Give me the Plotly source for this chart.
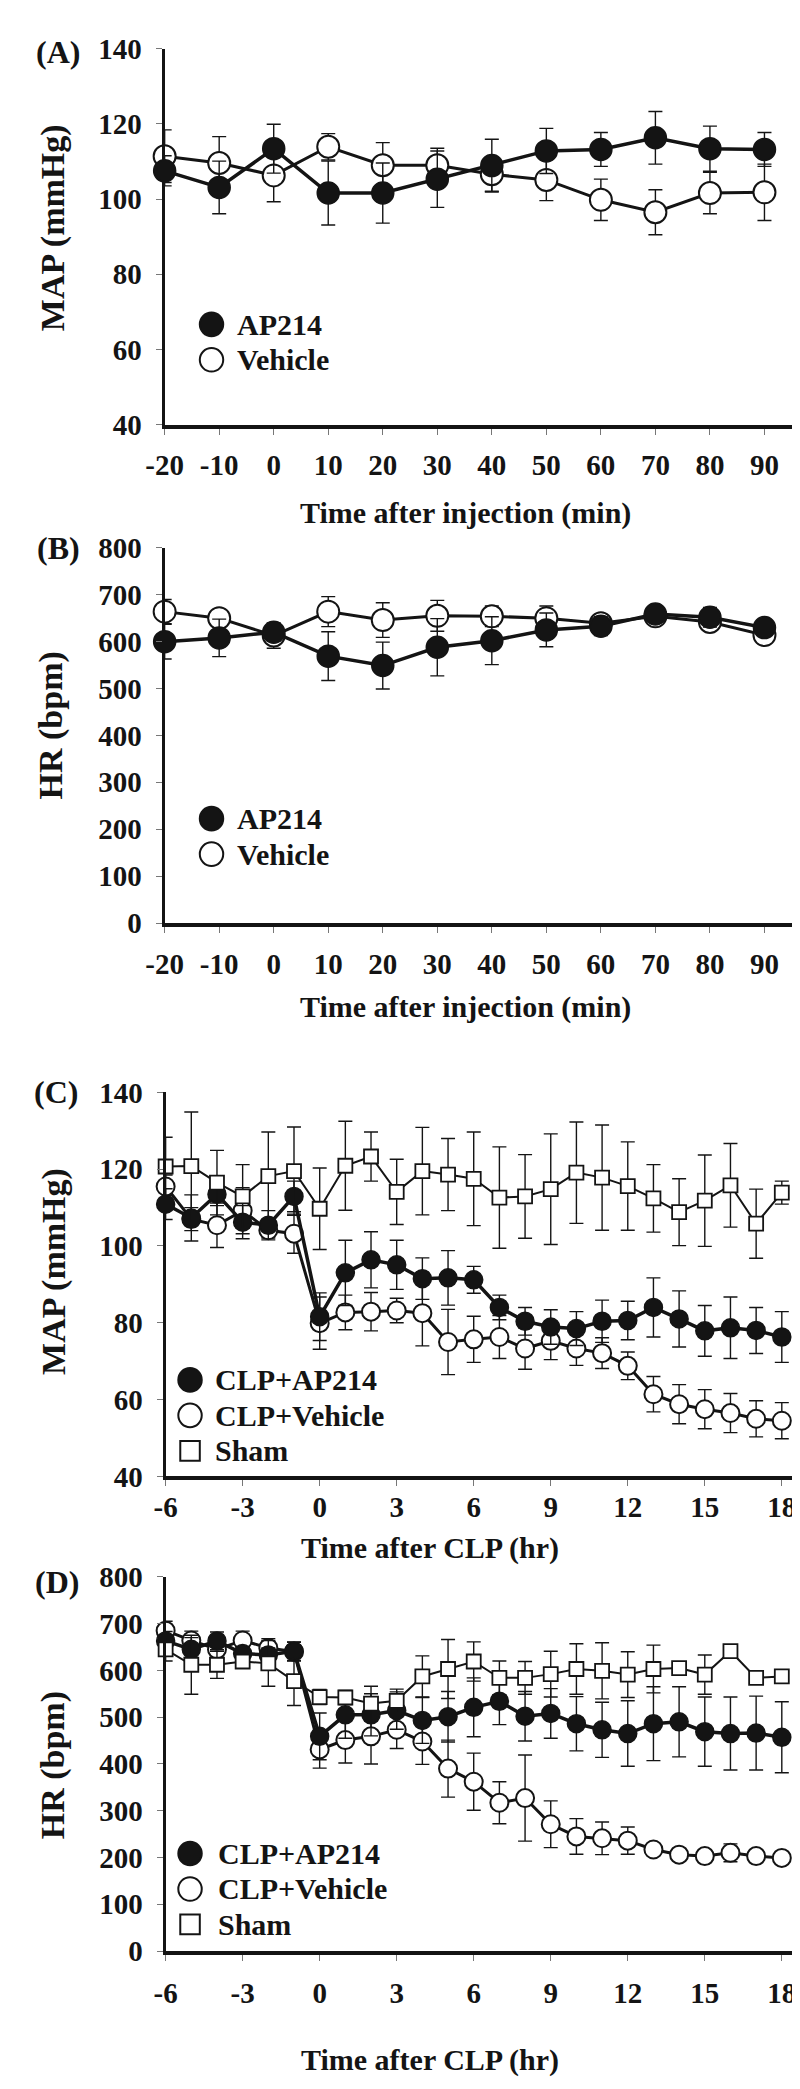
import plotly.graph_objects as go

# ---------------- data ----------------
time_min = [-20, -10, 0, 10, 20, 30, 40, 50, 60, 70, 80, 90]
time_min_labels = ["-20", "-10", "0", "10", "20", "30", "40", "50", "60", "70", "80", "90"]

map_a_ap214 = [107.5, 103.1, 113.4, 101.6, 101.6, 105.3, 108.9, 112.8, 113.2, 116.3, 113.4, 113.2]
map_a_ap214_err = [4, 7, 6.5, 8.5, 8, 7.5, 7, 6, 4.5, 7, 6, 4.5]
map_a_vehicle = [111.4, 109.6, 106.3, 113.9, 109.0, 109.0, 106.6, 105.1, 99.8, 96.5, 101.6, 101.8]
map_a_vehicle_err = [7, 7, 7, 3.5, 6, 4.5, 4.5, 5.5, 5.5, 6, 5.5, 7.5]

hr_b_ap214 = [600, 608, 620, 569, 549, 588, 602, 625, 633, 659, 652, 630]
hr_b_ap214_err = [37, 40, 19, 52, 50, 61, 51, 36, 20, 12, 21, 15]
hr_b_vehicle = [664, 650, 613, 664, 646, 655, 654, 650, 639, 654, 642, 614]
hr_b_vehicle_err = [26, 15, 27, 32, 37, 33, 22, 26, 15, 12, 15, 17]

time_hr = list(range(-6, 19))
time_hr_ticks = [-6, -3, 0, 3, 6, 9, 12, 15, 18]
time_hr_labels = ["-6", "-3", "0", "3", "6", "9", "12", "15", "18"]

map_c_ap214 = [110.9, 107.3, 113.5, 106.2, 105.4, 112.9, 81.6, 93.0, 96.4, 95.1, 91.5, 91.7, 91.2,
               84.0, 80.4, 78.9, 78.5, 80.4, 80.6, 84.0, 81.0, 77.9, 78.7, 78.0, 76.3]
map_c_ap214_err = [4, 6, 3, 4.3, 3.8, 4, 6.2, 8.5, 7.3, 6.4, 5.4, 7.1, 3.5, 3.2, 3.6, 4.5, 4.4,
                   5.5, 5, 7.7, 7.3, 6.6, 8, 6, 6.6]
map_c_vehicle = [115.5, 107.0, 105.4, 109.2, 104.1, 103.2, 79.9, 82.7, 82.9, 83.2, 82.5, 75.0, 75.7,
                 76.3, 73.3, 75.3, 73.3, 72.1, 68.8, 61.4, 58.8, 57.5, 56.5, 55.0, 54.5]
map_c_vehicle_err = [3, 3, 5.8, 6, 2, 5.1, 6.8, 4.5, 5, 3.2, 8.5, 8.5, 6, 5.6, 5.4, 4.9, 4.4, 4,
                     3.6, 4.6, 5.1, 5.1, 5.1, 4.7, 4.7]
map_c_sham = [120.7, 120.8, 116.5, 112.9, 118.2, 119.5, 109.7, 120.9, 123.3, 114.1, 119.5, 118.6,
              117.5, 112.6, 112.9, 114.8, 119.1, 117.8, 115.6, 112.4, 108.8, 111.8, 115.8, 105.8, 113.9]
map_c_sham_err = [7.6, 14.1, 8.4, 8.3, 11.5, 11.5, 10.6, 11.6, 6.4, 8.5, 11.4, 9.4, 12.2, 13.2,
                  10.9, 14.4, 13.2, 13.7, 11.5, 8.8, 8.7, 11.9, 10.9, 9, 3]

hr_d_ap214 = [663, 645, 663, 636, 633, 641, 459, 505, 505, 514, 493, 501, 521, 534, 502, 508, 486,
              473, 465, 486, 490, 469, 465, 466, 457]
hr_d_ap214_err = [20, 25, 19, 15, 15, 20, 50, 50, 45, 40, 49, 54, 63, 50, 53, 53, 58, 59, 70, 79,
                  75, 74, 78, 79, 76]
hr_d_vehicle = [685, 664, 645, 664, 648, 640, 431, 451, 459, 473, 448, 390, 362, 317, 327, 271, 245,
                241, 236, 217, 206, 203, 210, 203, 199]
hr_d_vehicle_err = [20, 20, 25, 20, 20, 20, 40, 49, 59, 40, 49, 61, 61, 45, 92, 50, 38, 35, 29, 10,
                    8, 8, 19, 10, 8]
hr_d_sham = [645, 612, 612, 619, 615, 577, 543, 542, 529, 535, 587, 603, 619, 584, 584, 592, 603,
             599, 591, 603, 605, 591, 641, 584, 587]
hr_d_sham_err = [25, 63, 29, 10, 49, 52, 16, 15, 37, 25, 44, 63, 42, 36, 35, 49, 54, 60, 49, 51,
                 8, 42, 5, 8, 12]

# ---------------- styling helpers ----------------
W, H = 800, 2089
INK = "#141414"
FONT = "Liberation Serif"


def xp(px):
    return px / W


def yp(py):
    return 1 - py / H


def err(vals):
    return dict(type="data", array=vals, visible=True, color=INK, thickness=1.4, width=7)


def series(x, y, e, kind, ax, msize, lw):
    if kind == "filled":
        marker = dict(symbol="circle", size=msize, color=INK, line=dict(color=INK, width=1.5))
    elif kind == "open":
        marker = dict(symbol="circle", size=msize, color="white", line=dict(color=INK, width=2))
    else:
        marker = dict(symbol="square", size=msize, color="white", line=dict(color=INK, width=1.8))
    return go.Scatter(x=x, y=y, mode="lines+markers", error_y=err(e), marker=marker,
                      line=dict(color=INK, width=lw), xaxis="x" + ax, yaxis="y" + ax,
                      showlegend=False, cliponaxis=False)


fig = go.Figure()
# Panel A
fig.add_trace(series(time_min, map_a_vehicle, map_a_vehicle_err, "open", "", 22, 3))
fig.add_trace(series(time_min, map_a_ap214, map_a_ap214_err, "filled", "", 22, 3.5))
# Panel B
fig.add_trace(series(time_min, hr_b_vehicle, hr_b_vehicle_err, "open", "2", 22, 3))
fig.add_trace(series(time_min, hr_b_ap214, hr_b_ap214_err, "filled", "2", 22, 3.5))
# Panel C
fig.add_trace(series(time_hr, map_c_vehicle, map_c_vehicle_err, "open", "3", 18, 3))
fig.add_trace(series(time_hr, map_c_ap214, map_c_ap214_err, "filled", "3", 18, 3.5))
fig.add_trace(series(time_hr, map_c_sham, map_c_sham_err, "square", "3", 14, 2))
# Panel D
fig.add_trace(series(time_hr, hr_d_vehicle, hr_d_vehicle_err, "open", "4", 18, 3))
fig.add_trace(series(time_hr, hr_d_ap214, hr_d_ap214_err, "filled", "4", 18, 3.5))
fig.add_trace(series(time_hr, hr_d_sham, hr_d_sham_err, "square", "4", 14, 2))

tickfont = dict(family=FONT, size=29, color=INK, weight="bold")


def xaxis(dom, rng, tv, tt, standoff):
    return dict(domain=dom, range=rng, tickvals=tv, ticktext=tt, showline=True, linewidth=3.5,
                linecolor=INK, ticks="outside", ticklen=6, tickwidth=1, tickcolor="#777",
                tickfont=tickfont, showgrid=False, zeroline=False, ticklabelstandoff=standoff)


def yaxis(dom, rng, dtick, anchor):
    return dict(domain=dom, range=rng, dtick=dtick, tick0=rng[0], showline=True, linewidth=3,
                linecolor=INK, ticks="outside", ticklen=6, tickwidth=1, tickcolor="#777",
                tickfont=tickfont, showgrid=False, zeroline=False, ticklabelstandoff=8,
                anchor=anchor)


xA = [xp(141), xp(785)]
xC = [xp(142), 1.0]
xD = [xp(142), xp(790)]

fig.update_layout(
    width=W, height=H, margin=dict(l=0, r=0, t=0, b=0),
    paper_bgcolor="white", plot_bgcolor="white", showlegend=False,
    xaxis=dict(xaxis(xA, [-20, 95.3], time_min, time_min_labels, 6), anchor="y"),
    yaxis=yaxis([yp(407), yp(25)], [40, 140], 20, "x"),
    xaxis2=dict(xaxis(xA, [-20, 95.3], time_min, time_min_labels, 6), anchor="y2"),
    yaxis2=yaxis([yp(913), yp(532)], [0, 800], 100, "x2"),
    xaxis3=dict(xaxis(xC, [-6, 19.02], time_hr_ticks, time_hr_labels, -4), anchor="y3"),
    yaxis3=yaxis([yp(1475), yp(1085)], [40, 140], 20, "x3"),
    xaxis4=dict(xaxis(xD, [-6, 18.64], time_hr_ticks, time_hr_labels, 7), anchor="y4"),
    yaxis4=yaxis([yp(1957), yp(1577)], [0, 800], 100, "x4"),
)

ann = []


def text(s, px, py, size, xanchor="center", angle=0):
    ann.append(dict(text=s, x=xp(px), y=yp(py), xref="paper", yref="paper", showarrow=False,
                    xanchor=xanchor, yanchor="middle", textangle=angle,
                    font=dict(family=FONT, size=size, color=INK, weight="bold")))


# panel letters
text("(A)", 32, 28, 32)
text("(B)", 32, 532, 32)
text("(C)", 30, 1085, 32)
text("(D)", 31, 1582, 32)
# y titles
text("MAP (mmHg)", 26, 207, 34, angle=-90)
text("HR (bpm)", 25, 712, 34, angle=-90)
text("MAP (mmHg)", 27, 1267, 34, angle=-90)
text("HR (bpm)", 27, 1768, 34, angle=-90)
# x titles
text("Time after injection (min)", 449, 497, 30)
text("Time after injection (min)", 449, 998, 30)
text("Time after CLP (hr)", 413, 1548, 30)
text("Time after CLP (hr)", 413, 2068, 30)

shapes = []


def legend_symbol(kind, cx, cy, d):
    r = d / 2
    fill = INK if kind == "filled" else "white"
    shapes.append(dict(type="rect" if kind == "square" else "circle", xref="paper", yref="paper",
                       x0=xp(cx - r), x1=xp(cx + r), y0=yp(cy + r), y1=yp(cy - r),
                       fillcolor=fill, line=dict(color=INK, width=2)))


# legends A, B
for base in (305, 807):
    legend_symbol("filled", 189, base, 24)
    text("AP214", 213, base, 30, xanchor="left")
    legend_symbol("open", 189, base + 36, 24)
    text("Vehicle", 213, base + 36, 30, xanchor="left")
# legends C, D
for base, tx in ((1377, 191), (1858, 194)):
    legend_symbol("filled", 167, base, 24)
    text("CLP+AP214", tx, base, 30, xanchor="left")
    legend_symbol("open", 167, base + 36, 24)
    text("CLP+Vehicle", tx, base + 36, 30, xanchor="left")
    legend_symbol("square", 167, base + 72, 20)
    text("Sham", tx, base + 72, 30, xanchor="left")

fig.update_layout(annotations=ann, shapes=shapes)
fig.write_html("out.html")
